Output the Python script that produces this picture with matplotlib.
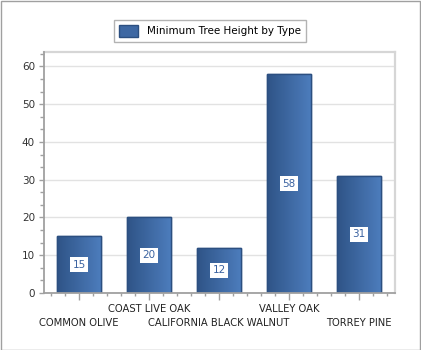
import matplotlib
matplotlib.use("Agg")
import matplotlib.pyplot as plt
import numpy as np
from matplotlib.colors import LinearSegmentedColormap
from matplotlib.patches import Rectangle
from matplotlib.ticker import MultipleLocator

categories = ["COMMON OLIVE", "COAST LIVE OAK", "CALIFORNIA BLACK WALNUT", "VALLEY OAK", "TORREY PINE"]
values = [15, 20, 12, 58, 31]
series_name = "Minimum Tree Height by Type"

plt.rcParams['font.family'] = ['DejaVu Sans']
fig = plt.figure(figsize=(4.21, 3.5), dpi=100)
fig.patch.set_facecolor('white')
# outer border
fig.add_artist(Rectangle((0.5/421, 0.5/350), 1 - 1.5/421, 1 - 1.5/350, transform=fig.transFigure,
                         fill=False, edgecolor='#a0a0a0', linewidth=1))

ax = fig.add_axes([44/421, (350-293)/350, (395-44)/421, (293-52.5)/350])
cmap = LinearSegmentedColormap.from_list('g', ['#2f5487', '#4d7dbd'])
grad = np.linspace(0, 1, 64).reshape(1, -1)

x = np.arange(len(categories))
bars = ax.bar(x, values, width=0.63, color='#3e68a3', edgecolor='#2c4f80', linewidth=1, zorder=2)
for b, v in zip(bars, values):
    im = ax.imshow(grad, cmap=cmap, aspect='auto',
                   extent=[b.get_x(), b.get_x() + b.get_width(), 0, b.get_height()], zorder=2.5)
    im.set_clip_path(b)
    ax.text(b.get_x() + b.get_width()/2, v/2, str(v), ha='center', va='center', fontsize=7.5,
            color='#3a62a0', zorder=4,
            bbox=dict(boxstyle='square,pad=0.25', facecolor='white', edgecolor='none'))
    ax.add_patch(Rectangle((b.get_x(), 0), b.get_width(), b.get_height(), fill=False,
                           edgecolor='#2c4f80', linewidth=1, zorder=3))

ax.set_xlim(-0.5, 4.514)
ax.set_ylim(0, 63.7)
ax.yaxis.set_major_locator(MultipleLocator(10))
ax.yaxis.set_minor_locator(MultipleLocator(10/3))
ax.set_xticks(x)
ax.set_xticklabels([])
ax.xaxis.set_minor_locator(MultipleLocator(0.2))
ax.grid(axis='y', color='#e2e2e2', linewidth=1, zorder=0)
ax.set_axisbelow(True)
for s in ['top', 'right']:
    ax.spines[s].set_color('#d6d6d6')
    ax.spines[s].set_linewidth(1.6)
for s in ['left', 'bottom']:
    ax.spines[s].set_color('#a0a0a0')
    ax.spines[s].set_linewidth(1.3)
    ax.spines[s].set_zorder(5)
ax.tick_params(axis='x', which='major', length=5, color='#a0a0a0', width=1)
ax.tick_params(axis='x', which='minor', length=2.5, color='#a0a0a0', width=1)
ax.tick_params(axis='y', which='major', length=3.5, color='#a0a0a0', width=1)
ax.tick_params(axis='y', which='minor', length=3, color='#a0a0a0', width=1)
ax.tick_params(axis='y', labelsize=7.5, labelcolor='#333333', pad=3)

for i, c in enumerate(categories):
    off = 30 if i % 2 == 0 else 16
    ax.annotate(c, xy=(i, 0), xycoords='data', xytext=(0, -off), textcoords='offset pixels',
                ha='center', va='center', fontsize=7.2, color='#222222')

leg = fig.legend(handles=[Rectangle((0, 0), 1, 1, facecolor='#3e68a3', edgecolor='#2c4f80')],
                 labels=[series_name], loc='center', bbox_to_anchor=(210/421, (350-31)/350),
                 fontsize=7.5, frameon=True, fancybox=False, handlelength=1.8, handleheight=1.3,
                 borderpad=0.5)
leg.get_frame().set_edgecolor('#a0a0a0')
leg.get_frame().set_linewidth(1)

fig.savefig('out.png', dpi=100)
